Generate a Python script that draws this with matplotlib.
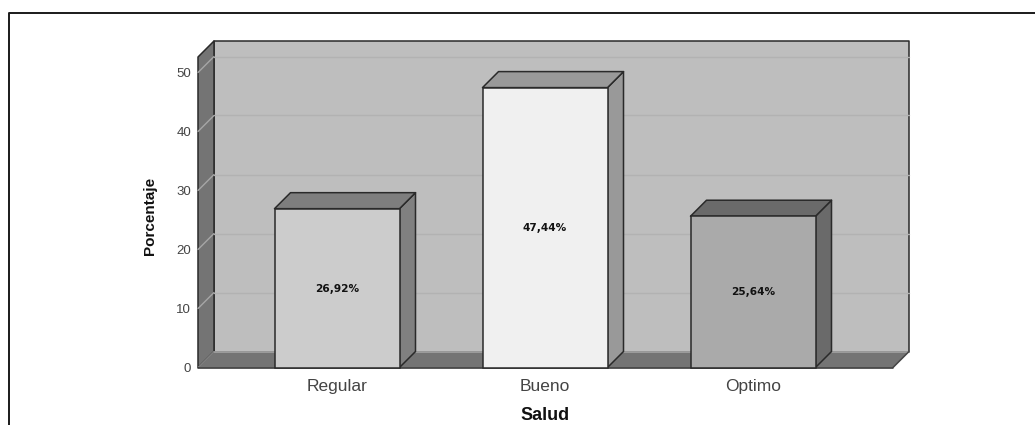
import matplotlib
matplotlib.use("Agg")
import matplotlib.pyplot as plt
from matplotlib.patches import Polygon

categorias = ["Regular", "Bueno", "Optimo"]
porcentajes = [26.92, 47.44, 25.64]
etiquetas = ["26,92%", "47,44%", "25,64%"]
ticks_y = [0, 10, 20, 30, 40, 50]

W, H = 1035, 425
# front plane of the box in pixels
izq, der, arriba, abajo = 198, 893, 57, 367.5
px_x = 208.0      # pixels per category
px_y = 5.9        # pixels per percent
prof = 16         # 3d depth in pixels
ancho = 125 / px_x
dx = prof / px_x
dy = prof / px_y

frente = ["#cccccc", "#f0f0f0", "#aaaaaa"]
lado = ["#808080", "#999999", "#6a6a6a"]
techo = ["#7e7e7e", "#999999", "#6a6a6a"]

plt.rcParams["font.family"] = ["Liberation Sans", "DejaVu Sans"]
fig = plt.figure(figsize=(W / 100, H / 100), dpi=100, facecolor="white")

# black frame: only top and left sides are in the picture
fig.add_artist(plt.Line2D([8.5 / W, 8.5 / W, 1],
                          [0, 1 - 12.5 / H, 1 - 12.5 / H],
                          color="#1a1a1a", lw=1.4))

ax = fig.add_axes([izq / W, 1 - abajo / H, (der - izq) / W, (abajo - arriba) / H])
ax.set_xlim((izq - 337) / px_x, (der - 337) / px_x)
ax.set_ylim(0, (abajo - arriba) / px_y)
ax.patch.set_visible(False)
for s in ax.spines.values():
    s.set_visible(False)

x0, x1 = ax.get_xlim()
y1 = ax.get_ylim()[1]
borde = "#2a2a2a"


def poli(puntos, color, z=1, lw=1.1, ec=borde):
    ax.add_patch(Polygon(puntos, closed=True, facecolor=color, edgecolor=ec,
                         lw=lw, clip_on=False, zorder=z, joinstyle="round"))


def linea(xs, ys, color, z=2, lw=1.1):
    ax.plot(xs, ys, color=color, lw=lw, zorder=z, clip_on=False, solid_capstyle="round")


# walls
poli([(x0 + dx, dy), (x1 + dx, dy), (x1 + dx, y1 + dy), (x0 + dx, y1 + dy)], "#bebebe", 1)
poli([(x0, 0), (x0 + dx, dy), (x0 + dx, y1 + dy), (x0, y1)], "#747474", 1)
poli([(x0, 0), (x1, 0), (x1 + dx, dy), (x0 + dx, dy)], "#747474", 1.5, ec="none")

# floor edges
linea([x0, x1], [0, 0], borde, 2)
linea([x1, x1 + dx], [0, dy], "#444444", 2)
linea([x0 + dx, x1 + dx], [dy, dy], "#a4a4a4", 1.8, lw=1.2)
linea([x0, x0 + dx], [0, dy], "#858585", 1.8, lw=0.8)

# gridlines on back wall and on the left wall
for t in ticks_y[1:]:
    linea([x0 + dx, x1 + dx], [t + dy, t + dy], "#b2b2b2", 1.6, lw=1.0)
    linea([x0, x0 + dx], [t, t + dy], "#a6a6a6", 1.6, lw=1.0)

# bars
for i, v in enumerate(porcentajes):
    a, b = i - ancho / 2, i + ancho / 2
    poli([(b, 0), (b + dx, dy), (b + dx, v + dy), (b, v)], lado[i], 3)
    poli([(a, v), (b, v), (b + dx, v + dy), (a + dx, v + dy)], techo[i], 3)
    ax.bar(i, v, width=ancho, color=frente[i], edgecolor=borde, lw=1.1, zorder=4, clip_on=False)
    ax.text(i, v / 2 - 0.1, etiquetas[i], ha="center", va="center", fontsize=7.6,
            fontweight="bold", family="DejaVu Sans", color="#111111", zorder=5)

ax.set_xticks(range(3))
ax.set_xticklabels(categorias, fontsize=12.5, color="#444444")
ax.set_yticks(ticks_y)
ax.set_yticklabels([str(t) for t in ticks_y], fontsize=9.5, color="#444444")
ax.tick_params(axis="both", length=0)
ax.tick_params(axis="x", pad=8)
ax.tick_params(axis="y", pad=5)

ax.set_xlabel("Salud", fontsize=13, fontweight="bold", labelpad=10, color="#111111")
ax.set_ylabel("Porcentaje", fontsize=11, fontweight="bold", labelpad=14, color="#111111")
ax.yaxis.label.set_y(0.488)

fig.savefig("out.png", dpi=100)
